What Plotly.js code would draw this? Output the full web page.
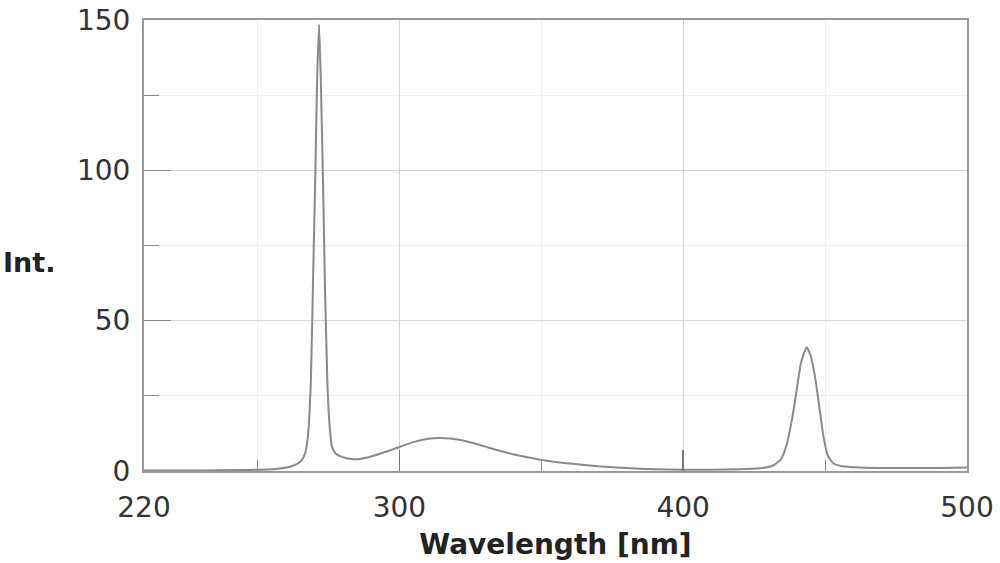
<!DOCTYPE html>
<html>
<head>
<meta charset="utf-8">
<script src="https://cdn.plot.ly/plotly-3.0.1.min.js"></script>
<style>html,body{margin:0;padding:0;background:#fff;}#chart{width:1000px;height:563px;}</style>
</head>
<body>
<div id="chart"></div>
<script>
// Wavelength (nm) and intensity
const wavelength = [210, 230, 245, 250, 255, 259, 262, 264, 265.5, 266.8, 267.8, 268.8, 269.6, 270.4, 271.0, 271.7, 272.3, 273.0, 273.8, 274.6, 275.4, 276.3, 277.5, 280, 283, 286, 290, 295, 300, 305, 310, 314, 318, 322, 326, 330, 335, 340, 345, 350, 355, 360, 370, 380, 390, 400, 410, 420, 428, 432, 434.5, 436.5, 438.5, 440, 441.5, 443.5, 445, 446.5, 448, 449.5, 451, 453, 456, 462, 475, 490, 500];
const intensity  = [0.2, 0.2, 0.3, 0.4, 0.6, 1.0, 1.6, 2.4, 3.5, 6, 12, 30, 65, 100, 130, 148.5, 130, 100, 60, 30, 15, 8, 5.8, 4.6, 4.0, 4.0, 4.8, 6.3, 8, 9.6, 10.7, 11, 10.8, 10.2, 9.3, 8.2, 6.8, 5.6, 4.6, 3.7, 3.0, 2.5, 1.6, 1.0, 0.6, 0.4, 0.4, 0.6, 1.0, 2.0, 4, 9, 18, 27, 36, 41.2, 38, 31, 21, 11, 5, 2.5, 1.6, 1.2, 1.0, 1.0, 1.2];

const xTickVals = [210, 300, 400, 500];
const xTickText = ['220', '300', '400', '500'];
const xMinorVals = [250, 350, 450];
const yTickVals = [0, 50, 100, 150];
const yMinorVals = [25, 75, 125];

const trace = {
  x: wavelength,
  y: intensity,
  type: 'scatter',
  mode: 'lines',
  line: {color: '#8a8a8a', width: 2, shape: 'spline', smoothing: 0.5},
  hoverinfo: 'x+y'
};

const layout = {
  width: 1000,
  height: 563,
  margin: {l: 144, r: 33, t: 20, b: 92},
  paper_bgcolor: '#ffffff',
  plot_bgcolor: '#ffffff',
  showlegend: false,
  font: {family: 'DejaVu Sans, Arial, sans-serif', color: '#333333'},
  xaxis: {
    range: [210, 500],
    tickmode: 'array',
    tickvals: xTickVals,
    ticktext: xTickText,
    ticks: 'inside',
    ticklen: 21,
    tickwidth: 1.5,
    tickcolor: '#777777',
    tickfont: {size: 28, color: '#333333'},
    ticklabelstandoff: 10,
    showgrid: true,
    gridcolor: '#d4d4d4',
    gridwidth: 1,
    zeroline: false,
    showline: true,
    linecolor: '#999999',
    linewidth: 2,
    mirror: true,
    minor: {tickvals: xMinorVals, ticks: 'inside', ticklen: 11, tickcolor: '#888888', tickwidth: 1, showgrid: true, gridcolor: '#f0f0f0', gridwidth: 1},
    title: {text: '<b>Wavelength [nm]</b>', font: {size: 28, color: '#222222'}, standoff: 12}
  },
  yaxis: {
    range: [0, 150],
    tickmode: 'array',
    tickvals: yTickVals,
    ticks: 'inside',
    ticklen: 27,
    tickwidth: 1.5,
    tickcolor: '#888888',
    tickfont: {size: 28, color: '#333333'},
    ticklabelstandoff: 6,
    showgrid: true,
    gridcolor: '#d4d4d4',
    gridwidth: 1,
    zeroline: false,
    showline: true,
    linecolor: '#999999',
    linewidth: 2,
    mirror: true,
    minor: {tickvals: yMinorVals, ticks: 'inside', ticklen: 15, tickcolor: '#888888', tickwidth: 1, showgrid: true, gridcolor: '#f0f0f0', gridwidth: 1}
  },
  annotations: [{
    text: '<b>Int.</b>',
    xref: 'paper', yref: 'paper',
    x: (29 - 144) / 823, y: (471 - 262) / 451,
    xanchor: 'center', yanchor: 'middle',
    showarrow: false,
    font: {size: 27, color: '#222222', family: 'DejaVu Sans, Arial, sans-serif'}
  }]
};

Plotly.newPlot('chart', [trace], layout, {displayModeBar: false, staticPlot: true});
</script>
</body>
</html>
